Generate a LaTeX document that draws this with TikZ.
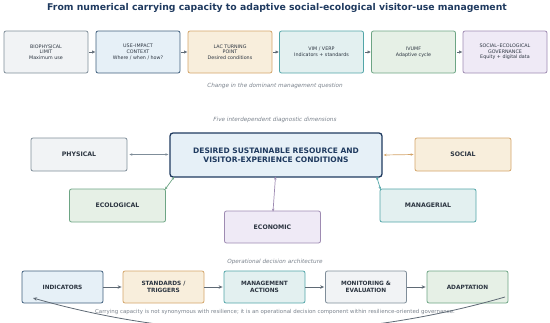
\documentclass[tikz,border=0pt]{standalone}
\usepackage{fontspec}
\setmainfont{DejaVu Sans}
\usetikzlibrary{arrows.meta}
\definecolor{navy}{HTML}{1F3A5F}
\definecolor{txt}{HTML}{2B3440}
\definecolor{cap}{HTML}{7A828C}
\definecolor{grayF}{HTML}{F1F3F5}\definecolor{grayB}{HTML}{7F8D99}
\definecolor{blueF}{HTML}{E6F0F7}\definecolor{blueB}{HTML}{3F5F7D}
\definecolor{orF}{HTML}{F8EEDC}\definecolor{orB}{HTML}{D4A56A}
\definecolor{tealF}{HTML}{E3F0F0}\definecolor{tealB}{HTML}{52A5A8}
\definecolor{grF}{HTML}{E6F0E6}\definecolor{grB}{HTML}{6DA584}
\definecolor{puF}{HTML}{EFEAF6}\definecolor{puB}{HTML}{9E8BB2}
\definecolor{arr}{HTML}{5F6A75}
\tikzset{
  topbox/.style={draw, line width=0.8pt, rounded corners=2pt, minimum width=84pt, minimum height=42pt,
    align=center, font=\fontsize{4.8}{5.7}\selectfont, text=txt, inner sep=1pt},
  dimbox/.style={draw, line width=0.8pt, rounded corners=2pt, minimum width=96pt, minimum height=33pt,
    align=center, font=\fontsize{6.2}{7}\selectfont\bfseries, text=txt},
  opbox/.style={draw, line width=0.8pt, rounded corners=2pt, minimum width=81pt, minimum height=32pt,
    align=center, font=\fontsize{5.8}{6.4}\selectfont\bfseries, text=txt},
  capt/.style={font=\fontsize{5.7}{6.2}\selectfont\itshape, text=cap},
  toparr/.style={-{Triangle[length=3pt,width=3pt]}, color=arr, line width=0.5pt, shorten >=0.5pt, shorten <=1pt},
  oparr/.style={-{Stealth[length=4pt,width=3.5pt]}, color=arr, line width=0.9pt, shorten >=1pt, shorten <=0pt},
  dimarr/.style={{Stealth[length=3pt,width=2.5pt]}-{Stealth[length=3pt,width=2.5pt]}, line width=0.7pt}
}
\begin{document}
\begin{tikzpicture}[x=1pt,y=-1pt]
\useasboundingbox (0,0) rectangle (550,322);
\clip (0,0) rectangle (550,322);
\node[font=\fontsize{9.3}{11}\selectfont\bfseries, text=navy] (title) at (277,8) {From numerical carrying capacity to adaptive social-ecological visitor-use management};
% top row
\node[topbox, fill=grayF, draw=grayB] (t1) at (46,52) {BIOPHYSICAL\\LIMIT\\Maximum use};
\node[topbox, fill=blueF, draw=blueB] (t2) at (138,52) {USE--IMPACT\\CONTEXT\\Where / when / how?};
\node[topbox, fill=orF, draw=orB] (t3) at (230,52) {LAC TURNING\\POINT\\Desired conditions};
\node[topbox, fill=tealF, draw=tealB] (t4) at (321.5,52) {VIM / VERP\\Indicators + standards};
\node[topbox, fill=grF, draw=grB] (t5) at (413.5,52) {IVUMF\\Adaptive cycle};
\node[topbox, fill=puF, draw=puB] (t6) at (505,52) {SOCIAL--ECOLOGICAL\\GOVERNANCE\\Equity + digital data};
\foreach \a/\b in {t1/t2,t2/t3,t3/t4,t4/t5,t5/t6} \draw[toparr] (\a) -- (\b);
\node[capt] (c1) at (275,86) {Change in the dominant management question};
% middle
\node[capt] (c2) at (275,120) {Five interdependent diagnostic dimensions};
\node[draw=navy, line width=1.3pt, fill=blueF, rounded corners=3pt, minimum width=212pt, minimum height=44pt,
  align=center, font=\fontsize{7.5}{8.6}\selectfont\bfseries, text=navy] (core) at (276,155)
  {DESIRED SUSTAINABLE RESOURCE AND\\VISITOR-EXPERIENCE CONDITIONS};
\node[dimbox, fill=grayF, draw=grayB] (phy) at (79,154.5) {PHYSICAL};
\node[dimbox, fill=orF, draw=orB] (soc) at (463,154.5) {SOCIAL};
\node[dimbox, fill=grF, draw=grB] (eco) at (117.5,205.5) {ECOLOGICAL};
\node[dimbox, fill=tealF, draw=tealB] (man) at (428,205.5) {MANAGERIAL};
\node[dimbox, fill=puF, draw=puB, minimum height=32pt] (ecn) at (272.5,227) {ECONOMIC};
\draw[dimarr, grayB] ([xshift=2pt]phy.east) -- ([xshift=-1pt,yshift=0.5pt]core.west);
\draw[dimarr, orB] ([xshift=1pt]core.east) -- ([xshift=-1pt]soc.east -| soc.west);
\draw[dimarr, grB] ([xshift=5pt,yshift=1pt]core.south west) -- ([xshift=-1pt,yshift=-1pt]eco.north east);
\draw[dimarr, tealB] ([xshift=-6pt,yshift=1pt]core.south east) -- ([xshift=1pt,yshift=-1pt]man.north west);
\draw[dimarr, puB] ([xshift=-0.5pt,yshift=1pt]core.south) -- ([xshift=0.5pt,yshift=-1pt]ecn.north);
% bottom
\node[capt] (c3) at (275,262) {Operational decision architecture};
\node[opbox, fill=blueF, draw=blueB] (o1) at (62.5,287) {INDICATORS};
\node[opbox, fill=orF, draw=orB] (o2) at (163.5,287) {STANDARDS /\\TRIGGERS};
\node[opbox, fill=tealF, draw=tealB] (o3) at (264.5,287) {MANAGEMENT\\ACTIONS};
\node[opbox, fill=grayF, draw=grayB] (o4) at (366,287) {MONITORING \&\\EVALUATION};
\node[opbox, fill=grF, draw=grB] (o5) at (467.5,287) {ADAPTATION};
\foreach \a/\b in {o1/o2,o2/o3,o3/o4,o4/o5} \draw[oparr] (\a) -- (\b);
\node[font=\fontsize{5.45}{6}\selectfont, text=cap] (foot) at (275,312) {Carrying capacity is not synonymous with resilience; it is an operational decision component within resilience-oriented governance.};
\coordinate (fbs) at (505,297);
\coordinate (fbe) at (33,298);
\draw[-{Stealth[length=4pt,width=3.5pt]}, color=arr, line width=0.8pt] (fbs) .. controls (347.7,342.3) and (190.3,342.7) .. (fbe);
\end{tikzpicture}
\end{document}
